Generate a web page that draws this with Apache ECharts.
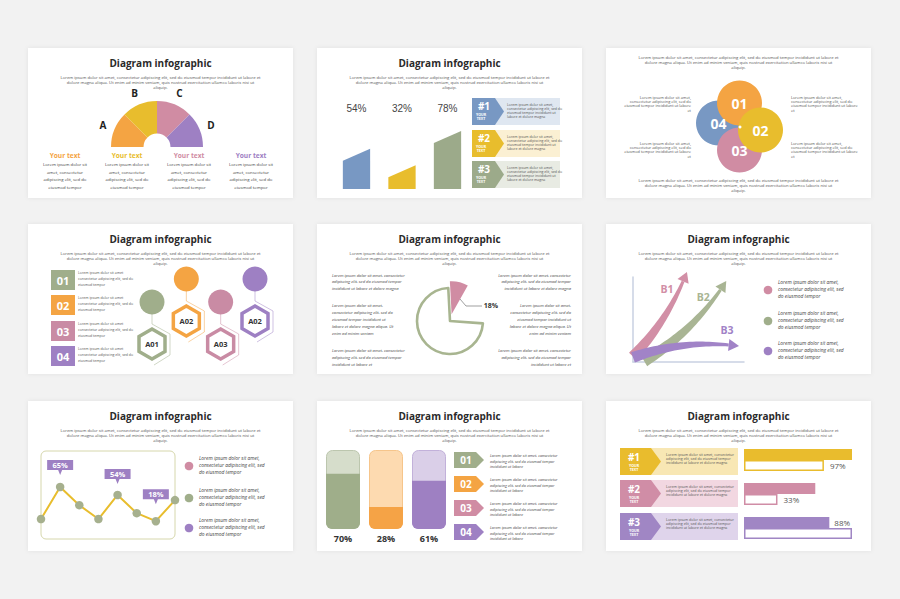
<!DOCTYPE html>
<html>
<head>
<meta charset="utf-8">
<script src="https://cdn.jsdelivr.net/npm/echarts@6.0.0/dist/echarts.min.js"></script>
<style>
  html, body { margin: 0; padding: 0; background: #f2f2f2; }
  #main { width: 900px; height: 599px; }
</style>
</head>
<body>
<div id="main"></div>
<script>
// slide 1 - half donut
var halfLabels = ['A', 'B', 'C', 'D'];
var halfValues = [25, 25, 25, 25];
// slide 2 - slanted bars
var growthLabels = ['54%', '32%', '78%'];
var growthValues = [54, 32, 78];
// slide 3 - petals
var petalNames = ['04', '01', '03', '02'];
var petalX = [-21, 0, 0, 21];
var petalY = [4, 24, -23, -3];
// slide 4 - hexagons
var hexNames = ['A01', 'A02', 'A03', 'A02'];
var hexLevel = [0, 1, 0, 1];
// slide 5 - pie
var pieNames = ['18%', 'gap', 'rest'];
var pieValues = [9, 18, 73];
// slide 6 - arrows
var arrowNames = ['B1', 'B2', 'B3'];
var arrowFrom = [[0, 6.5], [10, 1.2], [0, 5.4]];
var arrowTo = [[48.6, 105.9], [84, 95.3], [95.5, 18.8]];
// slide 7 - line
var lineValues = [21, 65, 40, 21, 54, 29, 18, 47];
var lineTags = ['', '65%', '', '', '54%', '', '18%', ''];
// slide 8 - tubes
var fillLabels = ['70%', '28%', '61%'];
var fillValues = [70, 28, 61];
// slide 9 - row bars
var rowNames = ['#1', '#2', '#3'];
var rowFilled = [100, 66, 79];
var rowOutline = [74, 31, 100];
var rowLabels = ['97%', '33%', '88%'];

var FONT = 'Open Sans';
var ORANGE = '#F4A443', YELLOW = '#E8BD2D', PINK = '#D08CA3', PURPLE = '#9E80C3',
    GREEN = '#A0AE8B', BLUE = '#7898C3';

var LOREM = [
  'Lorem ipsum dolor sit amet, consectetur adipiscing elit, sed do eiusmod tempor incididunt ut labore et',
  'dolore magna aliqua. Ut enim ad minim veniam, quis nostrud exercitation ullamco laboris nisi ut',
  'aliquip.'
];
var SHORT3 = ['Lorem ipsum dolor sit amet,', 'consectetur adipiscing elit, sed', 'do eiusmod tempor'];

var slides = [[28, 48], [317, 48], [606, 48], [28, 224], [317, 224], [606, 224], [28, 401], [317, 401], [606, 401]];
var W = 265, H = 150;

var g = [];
function text(x, y, s, o) {
  var style = {
    text: s, fill: '#555', fontFamily: FONT, fontSize: 4.2,
    align: 'center', verticalAlign: 'middle', textAlign: 'center', textVerticalAlign: 'middle'
  };
  for (var k in o) style[k] = o[k];
  if (o && o.align) style.textAlign = o.align;
  g.push({ type: 'text', x: x, y: y, z: 20, silent: true, style: style });
}
function lines(x, y0, step, arr, o) {
  arr.forEach(function (s, i) { text(x, y0 + i * step, s, o); });
}
function rect(x, y, w, h, fill, extra) {
  var e = { type: 'rect', z: 5, silent: true, shape: { x: x, y: y, width: w, height: h }, style: { fill: fill } };
  if (extra) for (var k in extra) e.style[k] = extra[k];
  g.push(e);
}
function poly(points, fill) {
  g.push({ type: 'polygon', z: 6, silent: true, shape: { points: points }, style: { fill: fill } });
}
function hexPts(cx, cy, hw, hh) {
  return [[cx, cy - hh], [cx + hw, cy - hh / 2], [cx + hw, cy + hh / 2], [cx, cy + hh], [cx - hw, cy + hh / 2], [cx - hw, cy - hh / 2]];
}

// slides, titles and intro text
slides.forEach(function (s, i) {
  g.push({ type: 'rect', z: 0, silent: true, shape: { x: s[0], y: s[1], width: W, height: H },
    style: { fill: '#fff', shadowBlur: 4, shadowColor: 'rgba(0,0,0,0.07)' } });
  var cx = s[0] + W / 2;
  if (i === 2) {
    lines(cx, s[1] + 9, 5.3, LOREM, {});
    lines(cx, s[1] + 132, 5.3, LOREM, {});
  } else {
    text(cx, s[1] + 15, 'Diagram infographic', { fill: '#2a2a2a', fontSize: 10, fontWeight: 'bold' });
    lines(cx, s[1] + 29, 5.2, LOREM, {});
  }
});

// slide 1 columns
var colX = [65, 127, 189, 251];
var colColors = [ORANGE, YELLOW, PINK, PURPLE];
colX.forEach(function (x, i) {
  text(x, 155, 'Your text', { fill: colColors[i], fontWeight: 'bold', fontSize: 6.6 });
  lines(x, 164, 7.7, ['Lorem ipsum dolor sit', 'amet, consectetur', 'adipiscing elit, sed do', 'eiusmod tempor'], { fill: '#444', fontSize: 4.3 });
});

// slide 2 numbered rows
var rowTop2 = [98, 130, 161];
var rowCol2 = [BLUE, YELLOW, '#9CAA8A'];
var rowLight2 = ['#DFE7F1', '#FBF0D3', '#E8EBE3'];
rowTop2.forEach(function (y0, i) {
  rect(472, y0, 88, 27, rowLight2[i]);
  poly([[472, y0], [495, y0], [504, y0 + 13.5], [495, y0 + 27], [472, y0 + 27]], rowCol2[i]);
  text(484, y0 + 8, rowNames[i], { fill: '#fff', fontWeight: 'bold', fontSize: 10 });
  text(481, y0 + 16.5, 'YOUR', { fill: '#fff', fontWeight: 'bold', fontSize: 3.6 });
  text(481, y0 + 20.5, 'TEXT', { fill: '#fff', fontWeight: 'bold', fontSize: 3.6 });
  lines(507, y0 + 6, 4.3, ['Lorem ipsum dolor sit amet,', 'consectetur adipiscing elit, sed do', 'eiusmod tempor incididunt ut', 'labore et dolore magna'], { align: 'left', fontSize: 3.5 });
});

// slide 3 side texts
var sideText3 = ['Lorem ipsum dolor sit amet,', 'consectetur adipiscing elit, sed do', 'eiusmod tempor incididunt ut labore', 'et'];
[97, 143].forEach(function (y) {
  lines(691, y, 4.4, sideText3, { align: 'right', fontSize: 3.9 });
  lines(791, y, 4.4, sideText3, { align: 'left', fontSize: 3.9 });
});

// slide 4 numbered boxes
var boxCol4 = [GREEN, ORANGE, '#C98BA4', PURPLE];
[270, 295, 321, 346].forEach(function (y0, i) {
  rect(51, y0, 24, 20, boxCol4[i]);
  text(63, y0 + 10, '0' + (i + 1), { fill: '#fff', fontWeight: 'bold', fontSize: 11 });
  lines(78, y0 + 2, 6.3, ['Lorem ipsum dolor sit amet', 'consectetur adipiscing elit, sed do', 'eiusmod tempor'], { align: 'left', fontSize: 3.5 });
});

// slide 5 side texts and label
var it5 = { fontStyle: 'italic', fontSize: 4.1, fill: '#444' };
var b5a = ['Lorem ipsum dolor sit amet, consectetur', 'adipiscing elit, sed do eiusmod tempor', 'incididunt ut labore et dolore magna'];
var b5b = ['Lorem ipsum dolor sit amet,', 'consectetur adipiscing elit, sed do', 'eiusmod tempor incididunt ut', 'labore et dolore magna aliqua. Ut', 'enim ad minim veniam'];
var b5c = ['Lorem ipsum dolor sit amet, consectetur', 'adipiscing elit, sed do eiusmod tempor', 'incididunt ut labore et'];
lines(332, 275, 6.8, b5a, Object.assign({ align: 'left' }, it5));
lines(332, 305, 7.2, b5b, Object.assign({ align: 'left' }, it5));
lines(332, 350, 7, b5c, Object.assign({ align: 'left' }, it5));
lines(571, 275, 6.8, b5a, Object.assign({ align: 'right' }, it5));
lines(571, 305, 7.2, b5b, Object.assign({ align: 'right' }, it5));
lines(571, 350, 7, b5c, Object.assign({ align: 'right' }, it5));
g.push({ type: 'polyline', z: 8, silent: true, shape: { points: [[460, 299], [466, 306], [482, 306]] },
  style: { stroke: '#777', lineWidth: 0.7, fill: null } });
text(491, 305, pieNames[0], { fill: '#333', fontWeight: 'bold', fontSize: 7 });

// legends slides 6, 7
var legCol = [PINK, GREEN, PURPLE];
function legend(cx, ys, tx) {
  ys.forEach(function (y, i) {
    g.push({ type: 'circle', z: 8, silent: true, shape: { cx: cx, cy: y, r: 4.3 }, style: { fill: legCol[i] } });
    lines(tx, y - 8, 7, SHORT3, { align: 'left', fontStyle: 'italic', fontSize: 4.9, fill: '#444' });
  });
}
legend(768, [290, 321, 351], 778);
legend(189, [466, 498, 528], 199);

// slide 7 frame
g.push({ type: 'rect', z: 1, silent: true, shape: { x: 41, y: 451, width: 134, height: 88, r: 5 },
  style: { fill: null, stroke: '#D6D7AC', lineWidth: 1 } });

// slide 8 tags
var tagCol8 = [GREEN, ORANGE, PINK, PURPLE];
[452, 476, 500, 524].forEach(function (y0, i) {
  poly([[454, y0], [476, y0], [484, y0 + 8], [476, y0 + 16], [454, y0 + 16]], tagCol8[i]);
  text(466, y0 + 8, '0' + (i + 1), { fill: '#fff', fontWeight: 'bold', fontSize: 10 });
  lines(490, y0 + 3.5, 5.6, ['Lorem ipsum dolor sit amet, consectetur', 'adipiscing elit, sed do eiusmod tempor', 'incididunt ut labore'], { align: 'left', fontStyle: 'italic', fontSize: 3.8, fill: '#444' });
});

// slide 9 row labels
var rowCol9 = ['#E9BC2D', '#D08DA6', '#A086C4'];
var rowLight9 = ['#F8E7B4', '#F2D7E1', '#DFD4EB'];
[448, 480, 513].forEach(function (y0, i) {
  rect(620, y0, 118, 27, rowLight9[i]);
  poly([[620, y0], [651, y0], [661, y0 + 13.5], [651, y0 + 27], [620, y0 + 27]], rowCol9[i]);
  text(634, y0 + 8.5, rowNames[i], { fill: '#fff', fontWeight: 'bold', fontSize: 10 });
  text(634, y0 + 17, 'YOUR', { fill: '#fff', fontWeight: 'bold', fontSize: 3.6 });
  text(634, y0 + 21, 'TEXT', { fill: '#fff', fontWeight: 'bold', fontSize: 3.6 });
  lines(666, y0 + 6, 4.4, ['Lorem ipsum dolor sit amet, consectetur', 'adipiscing elit, sed do eiusmod tempor', 'incididunt ut labore et dolore magna'], { align: 'left', fontSize: 3.6 });
});

// slide 3 centre dot
g.push({ type: 'circle', z: 30, silent: true, shape: { cx: 740, cy: 127, r: 1.5 }, style: { fill: '#fff' } });

var halfColors = [ORANGE, YELLOW, PINK, PURPLE];
var barColors2 = [BLUE, YELLOW, '#9CAA8A'];
var petalColors = [BLUE, ORANGE, PINK, YELLOW];
var hexColors = [GREEN, ORANGE, '#C98BA4', PURPLE];
var arrowColors = ['#D28FA6', '#A9B594', '#A183C7'];
var arrowBend = [-0.1, -0.12, 0.12];
var arrowBase = [11, 12, 11];
var arrowShift = [[-20, 17], [-23, 16], [-12, -16]];
var tagLift = [0, -19.5, 0, 0, -18.5, 0, -24.5, 0];
var tubeLight = ['#D6DDCB', '#FDDAB0', '#DACFE8'];
var tubeEdge = ['#BCC6AE', '#F6C58B', '#C2B1DA'];
var tubeFill = ['#9FAE8A', '#F5A346', '#9E80C2'];

function bez(p0, p1, p2, t) {
  var u = 1 - t;
  return [u * u * p0[0] + 2 * u * t * p1[0] + t * t * p2[0], u * u * p0[1] + 2 * u * t * p1[1] + t * t * p2[1]];
}

var hidden = { show: false };
var option = {
  backgroundColor: '#f2f2f2',
  animation: false,
  graphic: { elements: g },
  grid: [
    { left: 333.75, top: 114.6, width: 136.5, height: 74.4 },
    { left: 709.5, top: 97, width: 60, height: 60 },
    { left: 152, top: 279, width: 103, height: 23 },
    { left: 633, top: 277, width: 111, height: 85 },
    { left: 41, top: 461.5, width: 134, height: 72.8 },
    { left: 321.5, top: 450, width: 129, height: 79 },
    { left: 744, top: 443, width: 108, height: 102 }
  ],
  xAxis: [
    { gridIndex: 0, type: 'category', data: growthLabels, show: false },
    { gridIndex: 1, type: 'value', min: -30, max: 30, show: false },
    { gridIndex: 2, type: 'value', min: 0, max: hexNames.length - 1, show: false },
    { gridIndex: 3, type: 'value', min: 0, max: 100, axisLine: { show: true, lineStyle: { color: '#C9D1E2', width: 1.5 } },
      axisTick: hidden, axisLabel: hidden, splitLine: hidden },
    { gridIndex: 4, type: 'category', boundaryGap: false, data: lineValues.map(function (v, i) { return i; }), show: false },
    { gridIndex: 5, type: 'category', data: fillLabels, axisLine: hidden, axisTick: hidden,
      axisLabel: { margin: 5, color: '#333', fontWeight: 'bold', fontSize: 9, fontFamily: FONT } },
    { gridIndex: 6, type: 'value', min: 0, max: 100, show: false }
  ],
  yAxis: [
    { gridIndex: 0, type: 'value', min: 0, max: 100, show: false },
    { gridIndex: 1, type: 'value', min: -30, max: 30, show: false },
    { gridIndex: 2, type: 'value', min: 0, max: 1, show: false },
    { gridIndex: 3, type: 'value', min: 0, max: 100, axisLine: { show: true, lineStyle: { color: '#C9D1E2', width: 1.5 } },
      axisTick: hidden, axisLabel: hidden, splitLine: hidden },
    { gridIndex: 4, type: 'value', min: 0, max: 100, show: false },
    { gridIndex: 5, type: 'value', min: 0, max: 100, show: false },
    { gridIndex: 6, type: 'category', inverse: true, data: rowNames, show: false }
  ],
  series: [
    // slide 1
    {
      type: 'pie', silent: true, center: [157, 147], radius: [13.5, 46], startAngle: 180, endAngle: 0,
      label: { show: false }, labelLine: { show: false }, itemStyle: { borderWidth: 0 },
      data: halfValues.map(function (v, i) { return { value: v, name: halfLabels[i], itemStyle: { color: halfColors[i] } }; })
    },
    {
      type: 'pie', silent: true, center: [157, 147], radius: [46, 65], startAngle: 180, endAngle: 0,
      itemStyle: { color: 'transparent', borderWidth: 0 }, labelLine: { show: false },
      label: { show: true, position: 'inside', formatter: '{b}', color: '#222', fontWeight: 'bold', fontSize: 10, fontFamily: FONT },
      data: halfValues.map(function (v, i) { return { value: v, name: halfLabels[i] }; })
    },
    // slide 2
    {
      type: 'custom', xAxisIndex: 0, yAxisIndex: 0, silent: true,
      data: growthValues.map(function (v, i) { return [i, v]; }),
      renderItem: function (params, api) {
        var i = params.dataIndex;
        var top = api.coord([api.value(0), api.value(1)]);
        var base = api.coord([api.value(0), 0]);
        var w = api.size([1, 0])[0] * 0.6;
        var x0 = top[0] - w / 2, x1 = top[0] + w / 2;
        return {
          type: 'group', children: [
            { type: 'polygon', shape: { points: [[x0, base[1]], [x0, top[1] + 12], [x1, top[1]], [x1, base[1]]] },
              style: { fill: barColors2[i] } },
            { type: 'text', x: top[0], y: params.coordSys.y - 6,
              style: { text: growthLabels[i], fill: '#444', fontSize: 10, fontFamily: 'Liberation Sans',
                align: 'center', verticalAlign: 'middle', textAlign: 'center', textVerticalAlign: 'middle' } }
          ]
        };
      }
    },
    // slide 3
    {
      type: 'scatter', xAxisIndex: 1, yAxisIndex: 1, silent: true, symbolSize: 45,
      itemStyle: { opacity: 1 },
      label: { show: true, position: 'inside', formatter: '{b}', color: '#fff', fontWeight: 'bold', fontSize: 14, fontFamily: FONT },
      data: petalNames.map(function (n, i) { return { name: n, value: [petalX[i], petalY[i]], itemStyle: { color: petalColors[i] } }; })
    },
    // slide 4
    {
      type: 'custom', xAxisIndex: 2, yAxisIndex: 2, silent: true,
      data: hexNames.map(function (n, i) { return [i, hexLevel[i]]; }),
      renderItem: function (params, api) {
        var i = params.dataIndex;
        var c = api.coord([api.value(0), api.value(1)]);
        var col = hexColors[i], cx = c[0], hy = c[1] + 42;
        return {
          type: 'group', children: [
            { type: 'polyline', shape: { points: [[cx, c[1] + 12], [cx, hy - 20], [cx + 18, hy - 10], [cx + 18, hy + 11], [cx + 2, hy + 21]] },
              style: { stroke: col, lineWidth: 0.7, fill: null, opacity: 0.7 } },
            { type: 'circle', shape: { cx: cx, cy: c[1], r: 12.5 }, style: { fill: col } },
            { type: 'polygon', shape: { points: hexPts(cx, hy, 13, 15) }, style: { fill: '#fff', stroke: col, lineWidth: 3.5 } },
            { type: 'text', x: cx, y: hy,
              style: { text: hexNames[i], fill: '#333', fontWeight: 'bold', fontSize: 7.5, fontFamily: FONT,
                align: 'center', verticalAlign: 'middle', textAlign: 'center', textVerticalAlign: 'middle' } }
          ]
        };
      }
    },
    // slide 5
    {
      type: 'pie', silent: true, center: [450, 321], radius: 33, startAngle: 93,
      selectedMode: 'single', selectedOffset: 7,
      label: { show: false }, labelLine: { show: false },
      select: { itemStyle: { color: PINK, borderWidth: 0 } },
      data: [
        { value: pieValues[0], name: pieNames[0], selected: true, itemStyle: { color: PINK, borderWidth: 0 } },
        { value: pieValues[1], name: pieNames[1], itemStyle: { color: 'transparent', borderWidth: 0 } },
        { value: pieValues[2], name: pieNames[2], itemStyle: { color: '#fff', borderColor: '#A8B590', borderWidth: 2.6 } }
      ]
    },
    // slide 6
    {
      type: 'custom', xAxisIndex: 3, yAxisIndex: 3, silent: true,
      data: arrowNames.map(function (n, i) { return [arrowFrom[i][0], arrowFrom[i][1], arrowTo[i][0], arrowTo[i][1]]; }),
      renderItem: function (params, api) {
        var i = params.dataIndex;
        var p0 = api.coord([api.value(0), api.value(1)]);
        var p2 = api.coord([api.value(2), api.value(3)]);
        var c = arrowBend[i];
        var p1 = [(p0[0] + p2[0]) / 2 - (p0[1] - p2[1]) * c, (p0[1] + p2[1]) / 2 - (p2[0] - p0[0]) * c];
        var tEnd = 1;
        while (tEnd > 0.5) {
          var q = bez(p0, p1, p2, tEnd);
          if (Math.hypot(q[0] - p2[0], q[1] - p2[1]) >= 10) break;
          tEnd -= 0.005;
        }
        var left = [], right = [], n = 30;
        for (var k = 0; k <= n; k++) {
          var t = tEnd * k / n;
          var p = bez(p0, p1, p2, t);
          var a = bez(p0, p1, p2, Math.min(t + 0.01, 1));
          var b = bez(p0, p1, p2, Math.max(t - 0.01, 0));
          var dx = a[0] - b[0], dy = a[1] - b[1], L = Math.hypot(dx, dy);
          var nx = -dy / L, ny = dx / L;
          var w = (arrowBase[i] * (1 - k / n) + 3 * (k / n)) / 2;
          left.push([p[0] + nx * w, p[1] + ny * w]);
          right.unshift([p[0] - nx * w, p[1] - ny * w]);
        }
        var e = bez(p0, p1, p2, tEnd);
        var hx = p2[0] - e[0], hy = p2[1] - e[1], HL = Math.hypot(hx, hy);
        var mx = -hy / HL, my = hx / HL;
        var col = arrowColors[i];
        return {
          type: 'group', children: [
            { type: 'polygon', shape: { points: left.concat(right) }, style: { fill: col } },
            { type: 'polygon', shape: { points: [[e[0] + mx * 6, e[1] + my * 6], [p2[0], p2[1]], [e[0] - mx * 6, e[1] - my * 6]] }, style: { fill: col } },
            { type: 'text', x: p2[0] + arrowShift[i][0], y: p2[1] + arrowShift[i][1],
              style: { text: arrowNames[i], fill: col, fontWeight: 'bold', fontSize: 10.5, fontFamily: FONT,
                align: 'center', verticalAlign: 'middle', textAlign: 'center', textVerticalAlign: 'middle' } }
          ]
        };
      }
    },
    // slide 7
    {
      type: 'line', xAxisIndex: 4, yAxisIndex: 4, silent: true, data: lineValues,
      symbol: 'circle', symbolSize: 8.5, clip: false,
      lineStyle: { color: YELLOW, width: 2 }, itemStyle: { color: '#A6B08E' },
      markPoint: {
        silent: true,
        symbol: 'path://M0,0 H26 V10 H15 L13,15 L11,10 H0 Z', symbolSize: [26, 15],
        itemStyle: { color: PURPLE },
        label: { show: true, formatter: '{b}', color: '#fff', fontWeight: 'bold', fontSize: 7.5, fontFamily: FONT, offset: [0, -2.5] },
        data: lineTags.map(function (t, i) {
          return { name: t, coord: [i, lineValues[i]], symbolOffset: [0, tagLift[i]] };
        }).filter(function (d) { return d.name; })
      }
    },
    // slide 8
    {
      type: 'bar', xAxisIndex: 5, yAxisIndex: 5, silent: true, barWidth: 34,
      data: fillValues.map(function (v, i) {
        return { value: 100, itemStyle: { color: tubeLight[i], borderColor: tubeEdge[i], borderWidth: 1, borderRadius: 6 } };
      })
    },
    {
      type: 'bar', xAxisIndex: 5, yAxisIndex: 5, silent: true, barWidth: 34, barGap: '-100%',
      data: fillValues.map(function (v, i) {
        return { value: v, itemStyle: { color: tubeFill[i], borderRadius: [0, 0, 6, 6] } };
      })
    },
    // slide 9
    {
      type: 'bar', xAxisIndex: 6, yAxisIndex: 6, silent: true, barWidth: 11, barGap: '0%',
      data: rowFilled.map(function (v, i) {
        return { value: v, itemStyle: { color: rowCol9[i] },
          label: { show: i === 2, position: 'right', distance: 5, formatter: rowLabels[i], color: '#555', fontSize: 8, fontFamily: FONT } };
      })
    },
    {
      type: 'bar', xAxisIndex: 6, yAxisIndex: 6, silent: true, barWidth: 11,
      data: rowOutline.map(function (v, i) {
        return { value: v, itemStyle: { color: '#fff', borderColor: rowCol9[i], borderWidth: 1.5 },
          label: { show: i !== 2, position: 'right', distance: 6, formatter: rowLabels[i], color: '#555', fontSize: 8, fontFamily: FONT } };
      })
    }
  ]
};

var chart = echarts.init(document.getElementById('main'), null, { renderer: 'svg' });
chart.setOption(option);
</script>
</body>
</html>
